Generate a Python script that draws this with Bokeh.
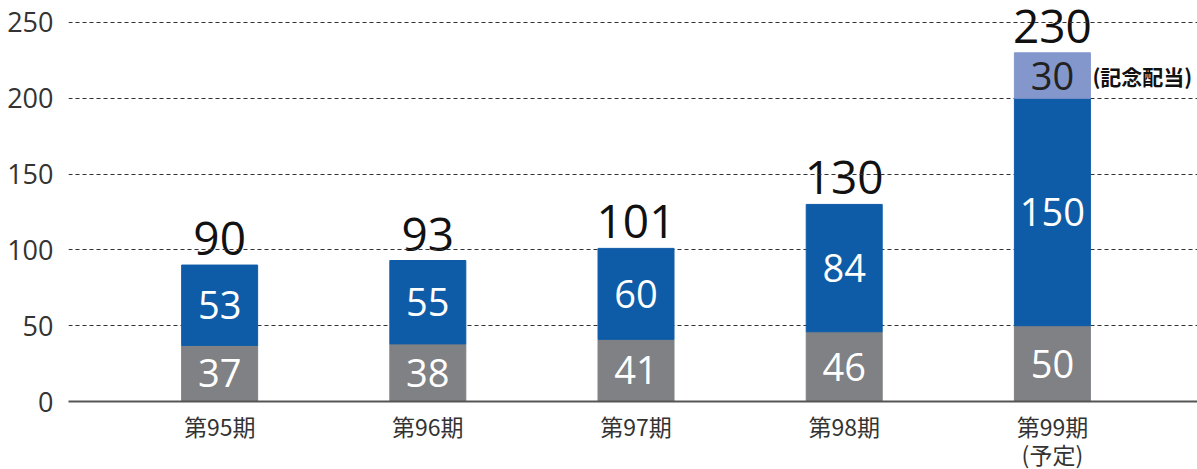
import numpy as np
from bokeh.plotting import figure
from bokeh.models import Range1d, ColumnDataSource, FixedTicker, LinearAxis
from bokeh.core.properties import value
from bokeh.embed import file_html
from bokeh.resources import INLINE

# ---- data ----
periods = ["第95期", "第96期", "第97期", "第98期", "第99期\n(予定)"]
base = [37, 38, 41, 46, 50]
extra = [53, 55, 60, 84, 150]
memorial = [0, 0, 0, 0, 30]
totals = [90, 93, 101, 130, 230]
memorial_note = "(記念配当)"
y_ticks = [0, 50, 100, 150, 200, 250]

x = list(range(len(periods)))
base_a = np.array(base)
extra_a = np.array(extra)
mem_a = np.array(memorial)

BW = 0.365
NUM_FONT = value("Open Sans")

p = figure(frame_width=1129, frame_height=401, output_backend="svg", toolbar_location=None,
           x_range=Range1d(-0.726, 4.697), y_range=Range1d(0, 264.5),
           min_border_left=68, min_border_right=0, min_border_top=0, min_border_bottom=0)
p.outline_line_color = None
p.background_fill_color = "white"
p.border_fill_color = "white"

# axes
p.yaxis.ticker = FixedTicker(ticks=y_ticks)
p.yaxis.axis_line_color = None
p.yaxis.major_tick_line_color = None
p.yaxis.minor_tick_line_color = None
p.yaxis.major_label_text_font = "Open Sans"
p.yaxis.major_label_text_font_size = "27px"
p.yaxis.major_label_text_color = "#333333"
p.yaxis.major_label_standoff = 9

first_lines = [s.split("\n")[0] for s in periods]
p.xaxis.ticker = FixedTicker(ticks=x)
p.xaxis.major_label_overrides = {i: first_lines[i] for i in x}
p.xaxis.axis_line_color = "#555555"
p.xaxis.axis_line_width = 2
p.xaxis.major_tick_line_color = None
p.xaxis.minor_tick_line_color = None
p.xaxis.major_tick_out = 0
p.xaxis.major_tick_in = 0
p.xaxis.minor_tick_out = 0
p.xaxis.major_label_text_font = "Noto Sans CJK JP"
p.xaxis.major_label_text_font_size = "23px"
p.xaxis.major_label_text_color = "#333333"
p.xaxis.major_label_standoff = 7

# second lines of the period labels, on a second (line-less) axis below
second = {i: s.split("\n")[1] for i, s in enumerate(periods) if "\n" in s}
ax2 = LinearAxis(ticker=FixedTicker(ticks=list(second.keys())),
                 major_label_overrides=second,
                 axis_line_color=None, major_tick_line_color=None, minor_tick_line_color=None,
                 major_tick_out=0, major_tick_in=0, minor_tick_out=0, minor_tick_in=0,
                 major_label_text_font="Noto Sans CJK JP", major_label_text_font_size="23px",
                 major_label_text_color="#333333", major_label_standoff=-9)
p.add_layout(ax2, "below")

p.xgrid.grid_line_color = None
p.ygrid.ticker = FixedTicker(ticks=y_ticks[1:])
p.ygrid.grid_line_color = "#333333"
p.ygrid.grid_line_dash = "4 3"
p.ygrid.grid_line_width = 1

# bars
src = ColumnDataSource(dict(
    x=x,
    b0=np.zeros(len(x)), b1=base_a, b2=base_a + extra_a, b3=base_a + extra_a + mem_a,
    base_lbl=[str(v) for v in base], extra_lbl=[str(v) for v in extra],
    mid0=base_a / 2, mid1=base_a + extra_a / 2,
    tot=totals, tot_lbl=[str(v) for v in totals],
))

# totals (drawn beneath the bars so the white box only masks the grid)
p.text(x="x", y="tot", text="tot_lbl", source=src, text_color="#111111",
       text_font=NUM_FONT, text_font_size="46px",
       text_align="center", text_baseline="bottom", y_offset=-8,
       background_fill_color="white", padding=2, level="underlay")

p.vbar(x="x", bottom="b0", top="b1", width=BW, color="#808184", source=src)
p.vbar(x="x", bottom="b1", top="b2", width=BW, color="#0e5ca8", source=src)

mem_idx = [i for i in x if memorial[i] > 0]
msrc = ColumnDataSource(dict(
    x=[x[i] for i in mem_idx],
    bot=[int(base_a[i] + extra_a[i]) for i in mem_idx],
    top=[int(base_a[i] + extra_a[i] + mem_a[i]) for i in mem_idx],
    mid=[float(base_a[i] + extra_a[i] + mem_a[i] / 2) for i in mem_idx],
    lbl=[str(memorial[i]) for i in mem_idx],
    note=[memorial_note for i in mem_idx],
    xr=[x[i] + BW / 2 for i in mem_idx],
))
p.vbar(x="x", bottom="bot", top="top", width=BW, color="#8497cc", source=msrc)

# inner labels
LBL = "38px"
p.text(x="x", y="mid0", text="base_lbl", source=src, text_color="white",
       text_font=NUM_FONT, text_font_size=LBL, text_align="center", text_baseline="middle")
p.text(x="x", y="mid1", text="extra_lbl", source=src, text_color="white",
       text_font=NUM_FONT, text_font_size=LBL, text_align="center", text_baseline="middle")
p.text(x="x", y="mid", text="lbl", source=msrc, text_color="#222222",
       text_font=NUM_FONT, text_font_size=LBL, text_align="center", text_baseline="middle")
p.text(x="xr", y="mid", text="note", source=msrc, text_color="#111111",
       text_font=value("Noto Sans CJK JP"), text_font_style="bold", text_font_size="21px",
       text_align="left", text_baseline="middle", x_offset=-3, background_fill_color="white",
       padding=5, level="underlay")

open("out.html", "w").write(file_html(p, INLINE))
